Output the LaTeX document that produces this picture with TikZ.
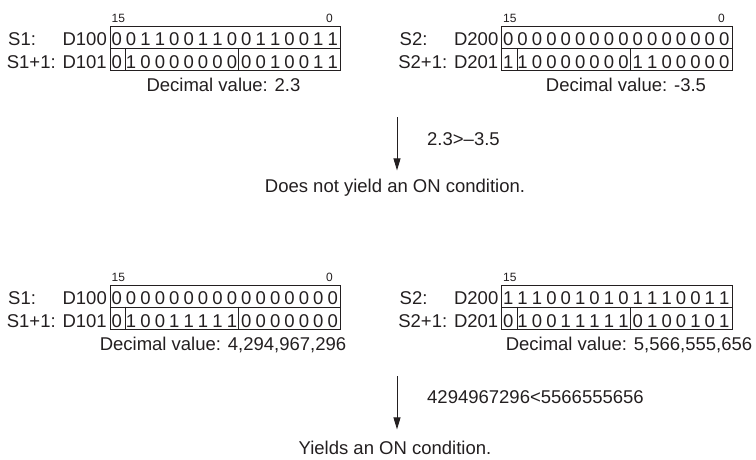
\documentclass[tikz,border=0pt]{standalone}
\usepackage{fontspec}
\setmainfont{Liberation Sans}
\usetikzlibrary{arrows.meta}
\definecolor{ink}{HTML}{231F20}
\newcommand\pitch{14.406}
\newcommand\drawreg[8]{%
  % #1 name, #2 left x, #3 top y, #4 row1 bits, #5 row2 bits,
  % #6 label row1 left, #7 label row1 right, #8 label row2
  \node[regrow, anchor=north west] (#1r1) at (#2,#3) {};
  \node[regrow, anchor=north west] (#1r2) at (#2,#3+22) {};
  \draw[reg] ([xshift=16pt]#1r2.north west) -- ([xshift=16pt]#1r2.south west);
  \draw[reg] ([xshift=129pt]#1r2.north west) -- ([xshift=129pt]#1r2.south west);
  \foreach \b [count=\i from 0] in {#4}
    \node[bit] (#1a\i) at ({#2+(\i+0.5)*\pitch},#3+19.5) {\b};
  \foreach \b [count=\i from 0] in {#5}
    \node[bit] (#1b\i) at ({#2+(\i+0.5)*\pitch},#3+42.5) {\b};
  \node[txt, anchor=base west] (#1la) at (#2-101.5,#3+19.5) {#6};
  \node[txt, anchor=base east] (#1lb) at (#2-2.5,#3+19.5) {#7};
  \node[txt, anchor=base east] (#1lc) at (#2-2.5,#3+42.5) {#8};
  \node[idx, anchor=base west] (#1hi) at (#2+2,#3-3.5) {15};
}
\begin{document}
\begin{tikzpicture}[x=1pt,y=-1pt,
  font=\fontsize{18.5}{22}\selectfont,
  txt/.style={inner sep=0pt, text=ink},
  bit/.style={inner sep=0pt, text=ink, anchor=base},
  idx/.style={inner sep=0pt, text=ink, font=\fontsize{12}{14}\selectfont},
  reg/.style={draw=ink, line width=0.9pt},
  regrow/.style={reg, rectangle, inner sep=0pt, minimum width=230.5pt, minimum height=22pt},
  arr/.style={draw=ink, line width=0.9pt, -{Triangle[length=12pt,width=7pt]}}]
\useasboundingbox (0,0) rectangle (756,459);

% ---- top section ----
\drawreg{A}{109.5}{26}{0,0,1,1,0,0,1,1,0,0,1,1,0,0,1,1}{0,1,0,0,0,0,0,0,0,0,0,1,0,0,1,1}{S1:}{D100}{S1+1: D101}
\node[idx, anchor=base] (Alo) at (329.5,22.5) {0};
\node[txt, anchor=base] (Adec) at (223.5,91) {Decimal value: 2.3};
\drawreg{B}{501}{26}{0,0,0,0,0,0,0,0,0,0,0,0,0,0,0,0}{1,1,0,0,0,0,0,0,0,1,1,0,0,0,0,0}{S2:}{D200}{S2+1: D201}
\node[idx, anchor=base] (Blo) at (721.5,22.5) {0};
\node[txt, anchor=base] (Bdec) at (626,91) {Decimal value: -3.5};

\coordinate (a1s) at (397,117);
\node[txt, anchor=base] (res1) at (395,192) {Does not yield an ON condition.};
\node[txt, anchor=base west] (cmp1) at (427,145) {2.3>–3.5};
\draw[arr, shorten >=8pt] (a1s) -- (a1s |- res1.north);

% ---- bottom section ----
\drawreg{C}{109.5}{284.5}{0,0,0,0,0,0,0,0,0,0,0,0,0,0,0,0}{0,1,0,0,1,1,1,1,1,0,0,0,0,0,0,0}{S1:}{D100}{S1+1: D101}
\node[idx, anchor=base] (Clo) at (329.5,281) {0};
\node[txt, anchor=base] (Cdec) at (223,350) {Decimal value: 4,294,967,296};
\drawreg{D}{501}{284.5}{1,1,1,0,0,1,0,1,0,1,1,1,0,0,1,1}{0,1,0,0,1,1,1,1,1,0,1,0,0,1,0,1}{S2:}{D200}{S2+1: D201}
\node[txt, anchor=base] (Ddec) at (629,350) {Decimal value: 5,566,555,656};

\coordinate (a2s) at (397,376);
\node[txt, anchor=base] (res2) at (395,454) {Yields an ON condition.};
\node[txt, anchor=base west] (cmp2) at (427,403) {4294967296<5566555656};
\draw[arr, shorten >=11pt] (a2s) -- (a2s |- res2.north);
\end{tikzpicture}
\end{document}
